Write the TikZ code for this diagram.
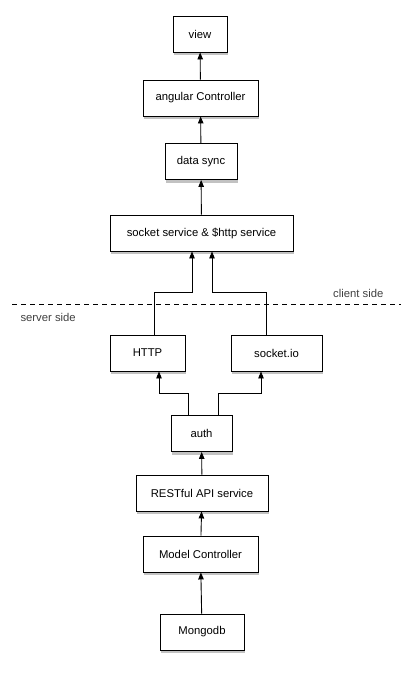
\documentclass[tikz,border=0pt]{standalone}
\usepackage{fontspec}
\setmainfont{Liberation Sans}
\usetikzlibrary{arrows.meta,shadows}

\begin{document}
\begin{tikzpicture}[x=1pt,y=-1pt,font=\fontsize{11.3}{13}\selectfont]
	\useasboundingbox (0,0) rectangle (401,675);
	\begin{scope}[every node/.style={draw,fill=white,line width=0.9pt,minimum height=36pt,inner sep=0pt,
			drop shadow={shadow xshift=1pt,shadow yshift=-3pt,opacity=0.4,fill=black!60}}]
		\node[minimum width=54pt] (view) at (200,34) {view};
		\node[minimum width=115pt] (ctrl) at (200.5,98) {angular Controller};
		\node[minimum width=72pt] (sync) at (201,161.5) {data sync};
		\node[minimum width=183pt] (svc) at (201.5,233) {socket service \& \$http service};
		\node[minimum width=75pt] (http) at (147.5,353) {HTTP};
		\node[minimum width=91pt] (sio) at (276.5,353) {socket.io};
		\node[minimum width=61pt] (auth) at (201.5,433.5) {auth};
		\node[minimum width=132pt] (rest) at (202,493) {RESTful API service};
		\node[minimum width=115pt] (model) at (200.5,554) {Model Controller};
		\node[minimum width=84pt] (mongo) at (202,632) {Mongodb};
	\end{scope}
	
	% client / server boundary
	\coordinate (lineL) at (12,304);
	\coordinate (lineR) at (401,304);
	\draw[dash pattern=on 5pt off 4pt,line width=0.8pt] (lineL) -- (lineR);
	\node[text=black!75,anchor=base east] (client) at (387,297) {client side};
	\node[text=black!75,anchor=base west] (server) at (17,321) {server side};
	
	\begin{scope}[every edge/.style={draw=black,line width=0.9pt},>={Triangle[length=7pt,width=5.5pt]}]
		\path [->] (ctrl) edge (view);
		\path [->] (sync) edge (ctrl);
		\path [->] (svc) edge (sync);
		\path [->] (model) edge (rest);
		\path [->] (rest) edge (auth);
		\path [->] (mongo) edge (model);
		\path [->] ([xshift=6.5pt]http.north) edge[to path={-- ++(0,-42) -| (\tikztotarget)}] ([xshift=-9.5pt]svc.south);
		\path [->] ([xshift=-10.5pt]sio.north) edge[to path={-- ++(0,-42) -| (\tikztotarget)}] ([xshift=10.5pt]svc.south);
		\path [->] ([xshift=-13.5pt]auth.north) edge[to path={-- ++(0,-22) -| (\tikztotarget)}] ([xshift=11.5pt]http.south);
		\path [->] ([xshift=16.5pt]auth.north) edge[to path={-- ++(0,-22) -| (\tikztotarget)}] ([xshift=-15.5pt]sio.south);
	\end{scope}
\end{tikzpicture}
\end{document}
